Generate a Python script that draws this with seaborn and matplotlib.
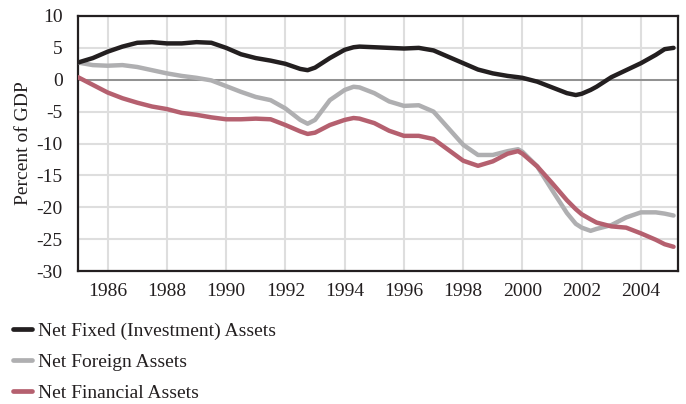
import matplotlib
matplotlib.use("Agg")
import matplotlib.pyplot as plt
import seaborn as sns
import pandas as pd
import numpy as np

years = [1985.0, 1985.5, 1986.0, 1986.5, 1987.0, 1987.5, 1988.0, 1988.5, 1989.0, 1989.5,
         1990.0, 1990.5, 1991.0, 1991.5, 1992.0, 1992.5, 1992.75, 1993.0, 1993.5, 1994.0,
         1994.3, 1994.5, 1995.0, 1995.5, 1996.0, 1996.5, 1997.0, 1997.5, 1998.0, 1998.5,
         1999.0, 1999.5, 1999.85, 2000.0, 2000.5, 2001.0, 2001.5, 2001.8, 2002.0, 2002.3,
         2002.5, 2003.0, 2003.5, 2004.0, 2004.5, 2004.8, 2005.1]

net_fixed = [2.7, 3.4, 4.4, 5.2, 5.8, 5.9, 5.7, 5.7, 5.9, 5.8,
             5.0, 4.0, 3.4, 3.0, 2.5, 1.7, 1.5, 1.9, 3.4, 4.7,
             5.1, 5.2, 5.1, 5.0, 4.9, 5.0, 4.6, 3.6, 2.6, 1.6,
             1.0, 0.6, 0.4, 0.3, -0.3, -1.2, -2.1, -2.4, -2.2, -1.6,
             -1.1, 0.4, 1.5, 2.6, 3.9, 4.8, 5.0]

net_foreign = [2.7, 2.3, 2.2, 2.3, 2.0, 1.5, 1.0, 0.6, 0.3, -0.1,
               -1.0, -1.9, -2.7, -3.2, -4.5, -6.3, -6.9, -6.3, -3.2, -1.6,
               -1.1, -1.2, -2.1, -3.4, -4.1, -4.0, -5.0, -7.6, -10.2, -11.8,
               -11.8, -11.2, -10.9, -11.3, -13.6, -17.3, -20.9, -22.6, -23.2, -23.7,
               -23.4, -22.8, -21.6, -20.8, -20.8, -21.0, -21.3]

net_financial = [0.4, -0.8, -2.0, -2.9, -3.6, -4.2, -4.6, -5.2, -5.5, -5.9,
                 -6.2, -6.2, -6.1, -6.2, -7.1, -8.1, -8.5, -8.3, -7.1, -6.3,
                 -6.0, -6.1, -6.8, -8.0, -8.8, -8.8, -9.3, -11.0, -12.7, -13.5,
                 -12.8, -11.6, -11.2, -11.6, -13.6, -16.2, -18.9, -20.3, -21.1, -21.9,
                 -22.4, -23.0, -23.2, -24.1, -25.1, -25.8, -26.2]

series_names = ["Net Fixed (Investment) Assets", "Net Foreign Assets", "Net Financial Assets"]
colors = ["#231f20", "#afafb1", "#b5606f"]
x_ticks = [1986, 1988, 1990, 1992, 1994, 1996, 1998, 2000, 2002, 2004]
y_ticks = [-30, -25, -20, -15, -10, -5, 0, 5, 10]

df = pd.DataFrame({
    "year": years * 3,
    "value": net_fixed + net_foreign + net_financial,
    "series": [series_names[0]] * len(years) + [series_names[1]] * len(years) + [series_names[2]] * len(years),
})

sns.set_theme(style="white")
plt.rcParams["font.family"] = ["Liberation Serif", "DejaVu Serif"]
plt.rcParams["axes.unicode_minus"] = False

fig = plt.figure(figsize=(6.86, 4.04), dpi=100)
ax = fig.add_axes([78 / 686, 1 - 271 / 404, 600 / 686, 255 / 404])

ax.set_xlim(1985, 2005.25)
ax.set_ylim(-30, 10)
ax.set_xticks(x_ticks)
ax.set_yticks(y_ticks)
ax.grid(True, color="#dedede", linewidth=1.5)
ax.set_axisbelow(True)
ax.axhline(0, color="#8a8a8a", linewidth=1.3, zorder=1.5)

# draw order: gray, red, black
draw_order = [1, 2, 0]
for i in draw_order:
    sub = df[df["series"] == series_names[i]]
    sns.lineplot(data=sub, x="year", y="value", ax=ax, color=colors[i],
                 linewidth=3.2, label=series_names[i], legend=False,
                 solid_capstyle="round", zorder=4 if i == 0 else 3)

for s in ax.spines.values():
    s.set_visible(True)
    s.set_color("#231f20")
    s.set_linewidth(1.6)

ax.tick_params(axis="both", direction="in", length=9, width=1.6, color="#231f20",
               labelsize=14, labelcolor="#231f20")
ax.tick_params(axis="x", pad=9)
ax.tick_params(axis="y", pad=11)
ax.set_xlabel("")
ax.set_ylabel("Percent of GDP", fontsize=14, color="#231f20", labelpad=3)

handles = [plt.Line2D([0], [0], color=c, linewidth=3.4) for c in colors]
fig.legend(handles, series_names, loc="upper left", bbox_to_anchor=(0.013, 1 - 318 / 404),
           frameon=False, fontsize=14, handlelength=1.0, handletextpad=0.3,
           labelspacing=0.7, borderaxespad=0, borderpad=0.2, labelcolor="#231f20")

fig.savefig("out.png", dpi=100)
